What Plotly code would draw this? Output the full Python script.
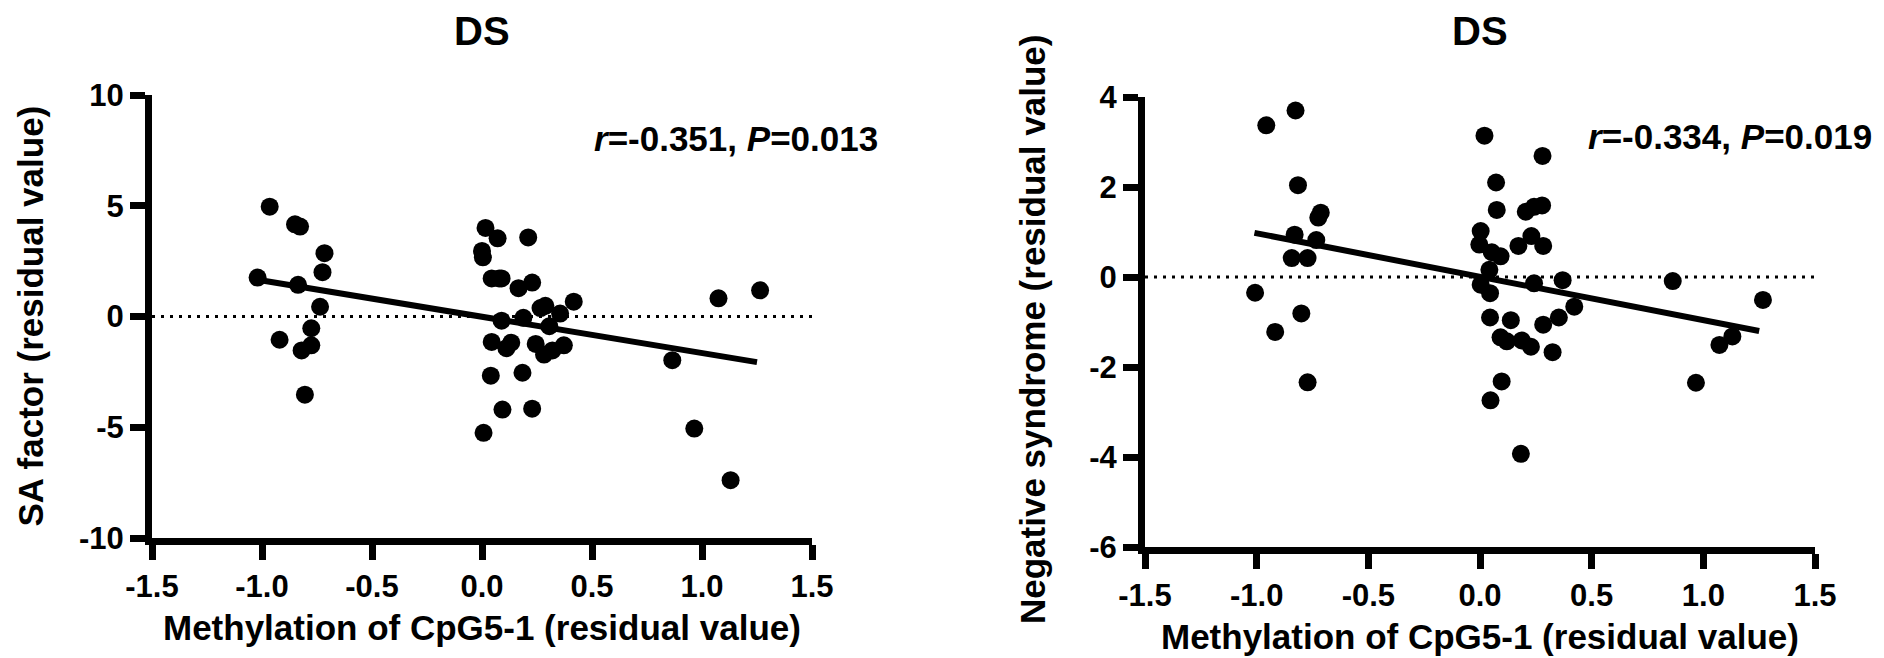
import plotly.graph_objects as go

# ---- data ----
# left panel: SA factor vs methylation of CpG5-1 (residuals)
sa_x = [-1.02, -0.965, -0.92, -0.85, -0.827, -0.836, -0.82, -0.805, -0.776, -0.776,
        -0.736, -0.725, -0.716,
        0.0, 0.004, 0.016, 0.007, 0.04, 0.044, 0.044, 0.071, 0.078, 0.089, 0.089,
        0.093, 0.111, 0.133, 0.166, 0.184, 0.188, 0.21, 0.228, 0.228, 0.244, 0.266,
        0.282, 0.288, 0.306, 0.32, 0.355, 0.372, 0.417,
        0.865, 0.965, 1.075, 1.13, 1.264]
sa_y = [1.76, 4.96, -1.05, 4.16, 4.06, 1.43, -1.53, -3.53, -1.30, -0.53,
        0.44, 2.0, 2.86,
        2.96, 2.67, 4.0, -5.25, -2.67, -1.15, 1.72, 3.53, 1.72, 1.72, -0.19,
        -4.2, -1.43, -1.18, 1.28, -2.54, -0.06, 3.57, 1.53, -4.16, -1.24, 0.38,
        -1.72, 0.48, -0.44, -1.53, 0.13, -1.3, 0.67,
        -1.97, -5.06, 0.82, -7.39, 1.18]
sa_fit_x = [-1.02, 1.25]
sa_fit_y = [1.66, -2.06]

# right panel: negative syndrome vs methylation of CpG5-1 (residuals)
neg_x = [-1.007, -0.957, -0.917, -0.826, -0.815, -0.83, -0.843, -0.80, -0.772, -0.772,
         -0.733, -0.724, -0.713,
         0.02, 0.072, 0.075, 0.003, -0.003, 0.053, 0.092, 0.042, 0.003, 0.045, 0.045,
         0.138, 0.092, 0.12, 0.097, 0.047, 0.183, 0.172, 0.205, 0.242, 0.278, 0.28,
         0.23, 0.283, 0.242, 0.187, 0.228, 0.283, 0.325, 0.353, 0.37, 0.422,
         0.863, 0.967, 1.072, 1.13, 1.267]
neg_y = [-0.35, 3.37, -1.22, 3.70, 2.04, 0.94, 0.42, -0.81, 0.42, -2.34,
         0.82, 1.32, 1.43,
         3.14, 2.10, 1.49, 1.02, 0.72, 0.55, 0.46, 0.16, -0.17, -0.36, -0.90,
         -0.96, -1.34, -1.43, -2.32, -2.74, -3.93, 0.69, 1.45, 1.56, 1.59, 2.69,
         0.91, 0.69, -0.14, -1.41, -1.55, -1.06, -1.67, -0.90, -0.07, -0.66,
         -0.09, -2.35, -1.51, -1.32, -0.51]
neg_fit_x = [-1.01, 1.25]
neg_fit_y = [0.98, -1.20]

x_ticks = [-1.5, -1.0, -0.5, 0.0, 0.5, 1.0, 1.5]
x_ticktext = ["-1.5", "-1.0", "-0.5", "0.0", "0.5", "1.0", "1.5"]
sa_ticks = [-10, -5, 0, 5, 10]
sa_ticktext = ["-10", "-5", "0", "5", "10"]
neg_ticks = [-6, -4, -2, 0, 2, 4]
neg_ticktext = ["-6", "-4", "-2", "0", "2", "4"]

FONT = "Liberation Sans, Arial, sans-serif"
x_title = "Methylation of CpG5-1 (residual value)"
W, H = 1884, 658

fig = go.Figure()

for xs, ys, fx, fy, ax in [(sa_x, sa_y, sa_fit_x, sa_fit_y, ""),
                           (neg_x, neg_y, neg_fit_x, neg_fit_y, "2")]:
    fig.add_trace(go.Scatter(x=xs, y=ys, mode="markers", xaxis="x" + ax, yaxis="y" + ax,
                             marker=dict(size=18, color="black"), cliponaxis=False,
                             showlegend=False))
    fig.add_trace(go.Scatter(x=fx, y=fy, mode="lines", xaxis="x" + ax, yaxis="y" + ax,
                             line=dict(color="black", width=6), showlegend=False))
    # dotted zero reference line across the whole x range
    fig.add_shape(type="line", xref="x" + ax + " domain", yref="y" + ax,
                  x0=0, x1=1, y0=0, y1=0,
                  line=dict(color="black", width=3, dash="3px,6px"))

tick_font = dict(family=FONT, size=31, color="black", weight="bold")
title_font = dict(family=FONT, size=35, color="black", weight="bold")
axis_common = dict(showline=True, linecolor="black", linewidth=7, ticks="outside",
                   ticklen=15, tickwidth=7, tickcolor="black", showgrid=False,
                   zeroline=False, automargin=False, tickfont=tick_font)

fig.update_layout(
    template="none",
    width=W, height=H,
    margin=dict(l=0, r=0, t=0, b=0),
    paper_bgcolor="white", plot_bgcolor="white",
    font=dict(family=FONT, color="black"),
    xaxis=dict(axis_common, domain=[144 / W, 804 / W], anchor="y", range=[-1.5, 1.5],
               tickvals=x_ticks, ticktext=x_ticktext),
    yaxis=dict(axis_common, domain=[1 - 530 / H, 1 - 87 / H], anchor="x", range=[-10, 10],
               tickvals=sa_ticks, ticktext=sa_ticktext),
    xaxis2=dict(axis_common, domain=[1137 / W, 1807 / W], anchor="y2", range=[-1.5, 1.5],
                tickvals=x_ticks, ticktext=x_ticktext),
    yaxis2=dict(axis_common, domain=[1 - 539 / H, 1 - 89 / H], anchor="x2", range=[-6, 4],
                tickvals=neg_ticks, ticktext=neg_ticktext),
)

# axis titles placed as annotations for exact positioning
fig.add_annotation(text=x_title, xref="x domain", yref="paper", x=0.5, y=1 - 619 / H,
                   xanchor="center", yanchor="middle", showarrow=False, font=title_font)
fig.add_annotation(text=x_title, xref="x2 domain", yref="paper", x=0.5, y=1 - 628 / H,
                   xanchor="center", yanchor="middle", showarrow=False, font=title_font)
fig.add_annotation(text="SA factor (residual value)", xref="paper", yref="y domain",
                   x=22 / W, y=0.5, xanchor="center", yanchor="middle", textangle=-90,
                   showarrow=False, font=title_font)
fig.add_annotation(text="Negative syndrome (residual value)", xref="paper", yref="paper",
                   x=1025 / W, y=1 - 322 / H, xanchor="center", yanchor="middle",
                   textangle=-90, showarrow=False, font=title_font)

big = dict(family=FONT, size=40, color="black", weight="bold")
stat = dict(family=FONT, size=35, color="black", weight="bold")
fig.add_annotation(text="DS", xref="x", yref="paper", x=0, y=1 - 23 / H,
                   xanchor="center", yanchor="middle", showarrow=False, font=big)
fig.add_annotation(text="DS", xref="x2", yref="paper", x=0, y=1 - 23 / H,
                   xanchor="center", yanchor="middle", showarrow=False, font=big)
fig.add_annotation(text="<i>r</i>=-0.351, <i>P</i>=0.013", xref="paper", yref="paper",
                   x=584 / W, y=1 - 130 / H, xanchor="left", yanchor="middle",
                   showarrow=False, font=stat)
fig.add_annotation(text="<i>r</i>=-0.334, <i>P</i>=0.019", xref="paper", yref="paper",
                   x=1578 / W, y=1 - 128 / H, xanchor="left", yanchor="middle",
                   showarrow=False, font=stat)

fig.write_html("out.html")
